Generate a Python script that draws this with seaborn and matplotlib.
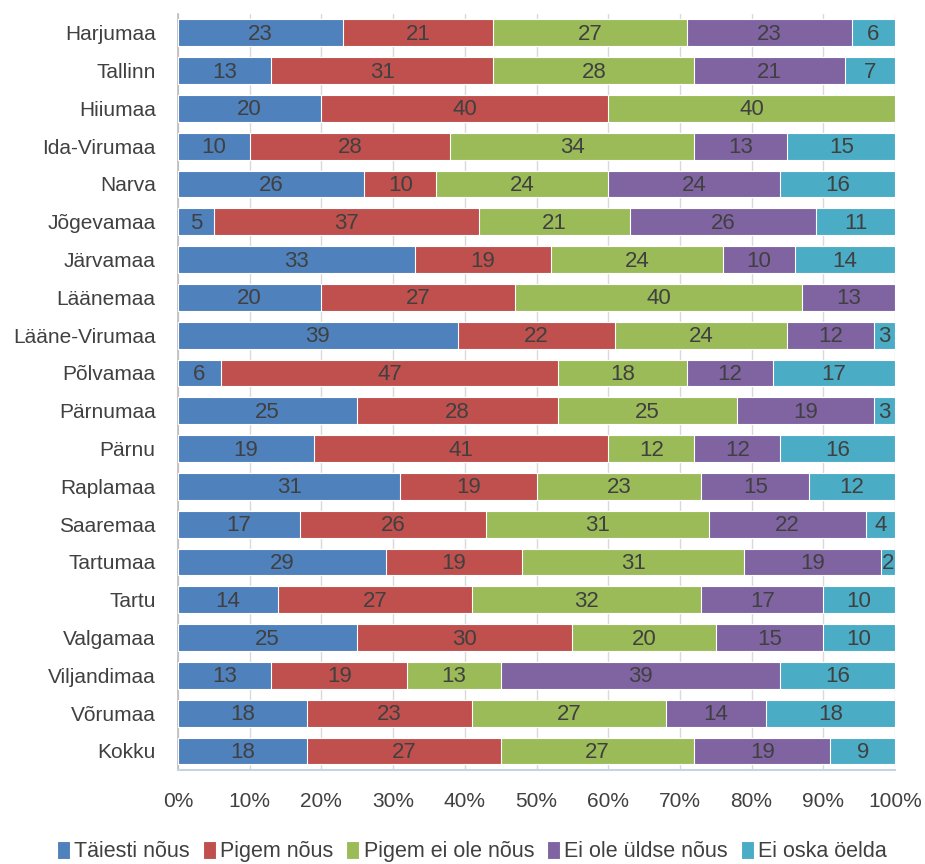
import matplotlib
matplotlib.use("Agg")
import matplotlib.pyplot as plt
import seaborn as sns
import pandas as pd
import numpy as np

regions = ["Harjumaa", "Tallinn", "Hiiumaa", "Ida-Virumaa", "Narva", "Jõgevamaa",
           "Järvamaa", "Läänemaa", "Lääne-Virumaa", "Põlvamaa", "Pärnumaa", "Pärnu",
           "Raplamaa", "Saaremaa", "Tartumaa", "Tartu", "Valgamaa", "Viljandimaa",
           "Võrumaa", "Kokku"]
taiesti = [23, 13, 20, 10, 26, 5, 33, 20, 39, 6, 25, 19, 31, 17, 29, 14, 25, 13, 18, 18]
pigem = [21, 31, 40, 28, 10, 37, 19, 27, 22, 47, 28, 41, 19, 26, 19, 27, 30, 19, 23, 27]
pigem_ei = [27, 28, 40, 34, 24, 21, 24, 40, 24, 18, 25, 12, 23, 31, 31, 32, 20, 13, 27, 27]
ei_ole = [23, 21, 0, 13, 24, 26, 10, 13, 12, 12, 19, 12, 15, 22, 19, 17, 15, 39, 14, 19]
ei_oska = [6, 7, 0, 15, 16, 11, 14, 0, 3, 17, 3, 16, 12, 4, 2, 10, 10, 16, 18, 9]

series = ["Täiesti nõus", "Pigem nõus", "Pigem ei ole nõus", "Ei ole üldse nõus", "Ei oska öelda"]
colors = ["#4F81BD", "#C0504D", "#9BBB59", "#8064A2", "#4BACC6"]

df = pd.DataFrame({"region": regions, series[0]: taiesti, series[1]: pigem,
                   series[2]: pigem_ei, series[3]: ei_ole, series[4]: ei_oska})
cum = df[series].cumsum(axis=1)

sns.set_theme(style="white")
plt.rcParams['font.family'] = ['Liberation Sans', 'DejaVu Sans']
txt = "#404040"

fig = plt.figure(figsize=(9.25, 8.64), dpi=100)
ax = fig.add_axes([0.1924, 0.109, 0.7752, 0.875])

# draw cumulative bars from the largest down so they look stacked
for name, col in reversed(list(zip(series, colors))):
    sns.barplot(x=cum[name], y=df["region"], color=col, orient="h", width=0.71,
                saturation=1, edgecolor="white", linewidth=0.8, ax=ax,
                label=name, zorder=3)

for name in series:
    for i, (v, c) in enumerate(zip(df[name], cum[name])):
        if v > 0:
            ax.text(c - v / 2, i + 0.04, str(v), ha="center", va="center",
                    fontsize=16, color=txt, zorder=4)

ax.set_xlim(0, 100)
ax.set_ylim(19.5, -0.5)
ax.set_xticks(np.arange(0, 101, 10))
ax.set_xticklabels([f"{t}%" for t in range(0, 101, 10)])
ax.xaxis.grid(True, color="#D9D9D9", linewidth=1, zorder=0)
ax.set_xlabel("")
ax.set_ylabel("")
ax.tick_params(axis="x", labelsize=15, labelcolor=txt, pad=16, length=0)
ax.tick_params(axis="y", labelsize=15, labelcolor=txt, pad=16, length=0)
for s in ["top", "right"]:
    ax.spines[s].set_visible(False)
ax.spines["left"].set_color("#BFBFBF")
ax.spines["bottom"].set_color("#C6D3E3")
ax.spines["bottom"].set_linewidth(1.5)

handles, labels = ax.get_legend_handles_labels()
order = [labels.index(s) for s in series]
ax.legend([handles[i] for i in order], [labels[i] for i in order],
          loc="center", bbox_to_anchor=(0.41, -0.108), ncol=5, frameon=False,
          fontsize=15.5, handlelength=0.6, handleheight=0.9, handletextpad=0.2,
          columnspacing=0.6, labelcolor=txt)

fig.savefig("out.png", dpi=100)
